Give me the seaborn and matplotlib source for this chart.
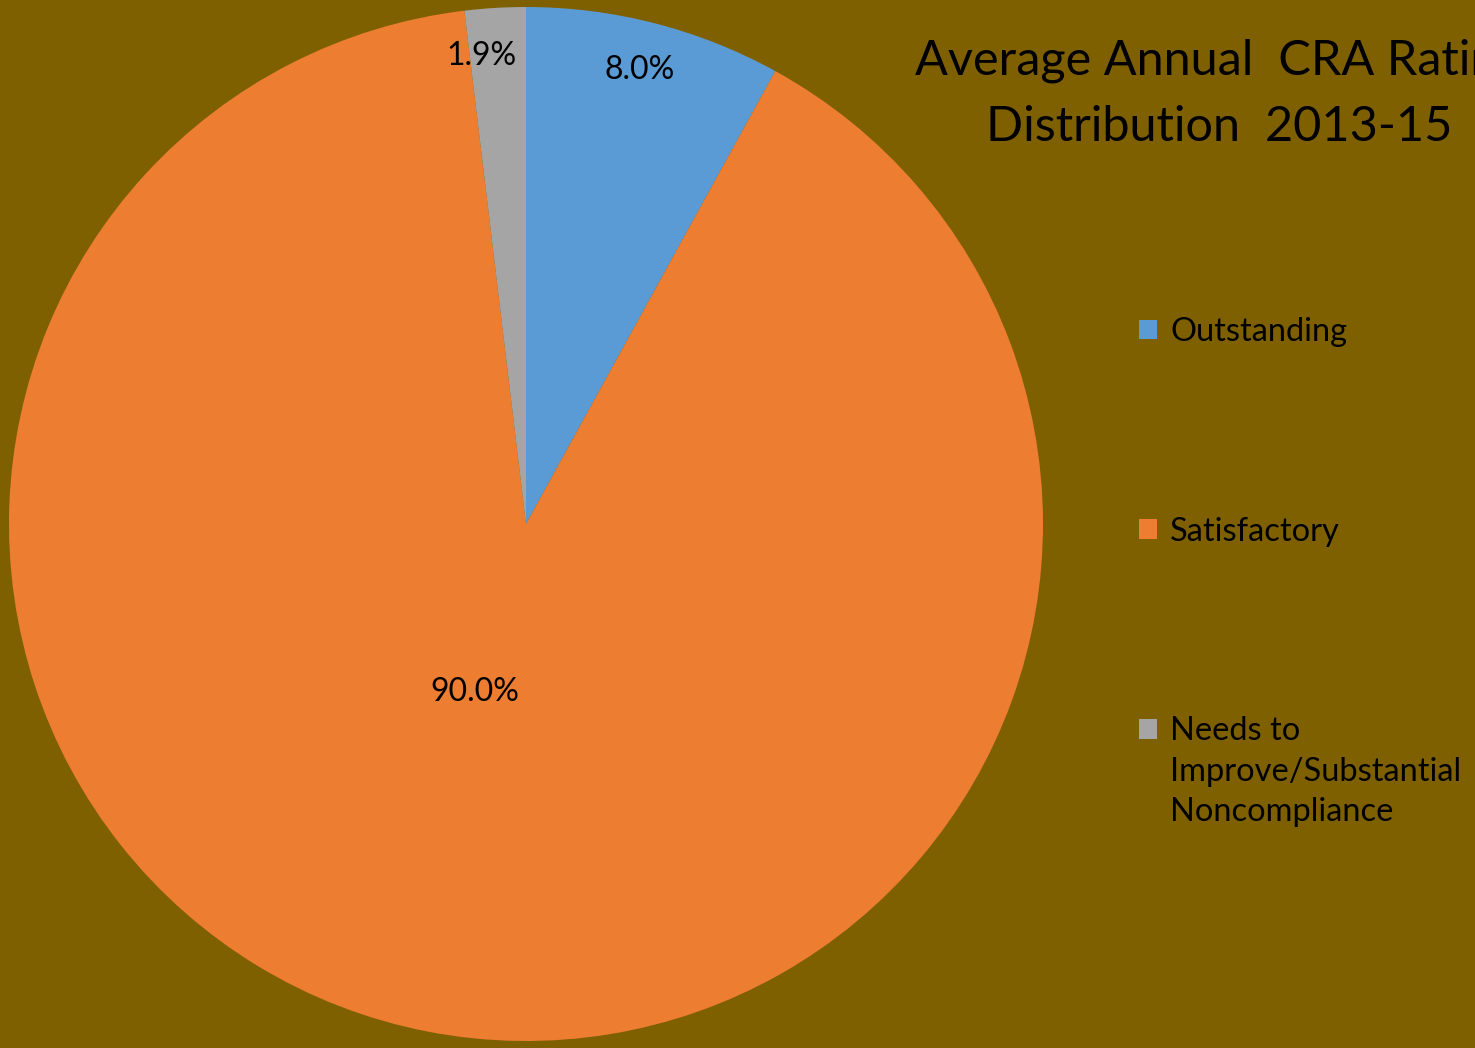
import matplotlib
matplotlib.use("Agg")
import matplotlib.pyplot as plt
import seaborn as sns
import numpy as np

# Rating categories and their average annual shares (%)
categories = ["Outstanding", "Satisfactory", "Needs to\nImprove/Substantial\nNoncompliance"]
shares = [8.0, 90.0, 1.9]
share_labels = ["8.0%", "90.0%", "1.9%"]
title_text = "Average Annual  CRA Rating\nDistribution  2013-15"

sns.set_theme(style="white")
plt.rcParams["font.family"] = ["Lato", "DejaVu Sans"]

bg = "#7F6000"
colors = ["#5B9BD5", "#ED7D31", "#A5A5A5"]

W, H = 1475, 1048
fig = plt.figure(figsize=(W / 100, H / 100), dpi=100, facecolor=bg)

# pie axes: circle of radius 517 px centred at (526, 524) px from top-left
R = 517
cx, cy = 526, H - 524
ax = fig.add_axes([(cx - R) / W, (cy - R) / H, 2 * R / W, 2 * R / H])
ax.set_facecolor(bg)

wedges, _ = ax.pie(shares, colors=colors, startangle=90, counterclock=False,
                   radius=1.0, wedgeprops=dict(linewidth=0))
ax.set_xlim(-1, 1)
ax.set_ylim(-1, 1)
ax.set_aspect("equal")
ax.axis("off")

# percentage labels placed near each wedge's bisector
label_dist = [0.905, 0.34, 0.91]
label_nudge_deg = [0.3, -6.0, 2.0]
for w, txt, d, nd in zip(wedges, share_labels, label_dist, label_nudge_deg):
    ang = np.deg2rad((w.theta1 + w.theta2) / 2 + nd)
    ax.text(d * np.cos(ang), d * np.sin(ang), txt, ha="center", va="center",
            fontsize=23, color="black")

# title, running past the right edge of the figure
fig.text(1219 / W, 1 - 94 / H, title_text, ha="center", va="center",
         fontsize=35, color="black", linespacing=1.62)

fs_leg = 23.5
leg = fig.legend(wedges, categories, loc="upper left",
                 bbox_to_anchor=(1139 / W, 1 - 317 / H),
                 frameon=False, fontsize=fs_leg, handlelength=0.55, handleheight=0.55,
                 handletextpad=0.4, labelspacing=5.2, borderpad=0, borderaxespad=0)
for t in leg.get_texts():
    t.set_color("black")
    t.set_linespacing(1.42)

# keep the marker of the multi-line entry level with its first line
h3 = leg.legend_handles[2]
h3.set_y(h3.get_y() + 31)

fig.savefig("out.png", dpi=100, facecolor=bg)
